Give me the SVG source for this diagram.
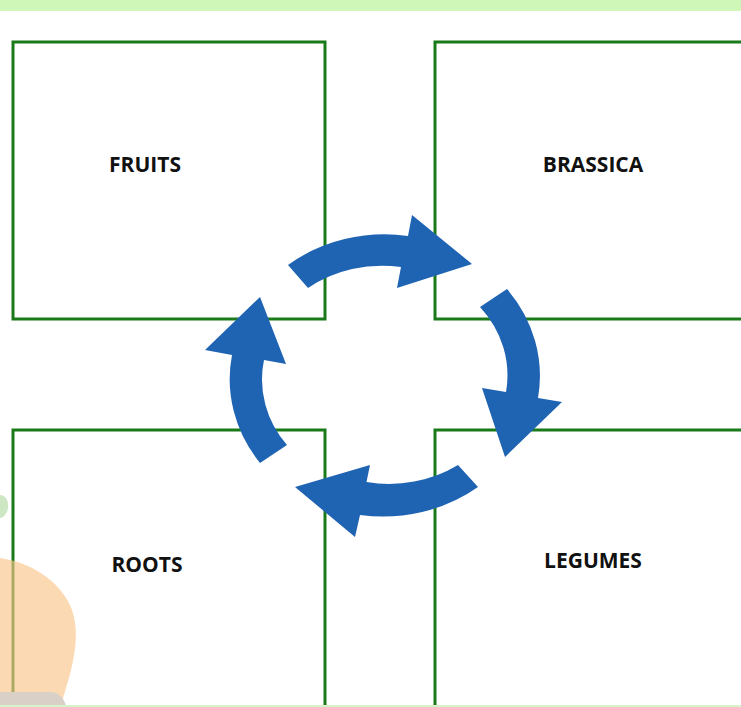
<svg xmlns="http://www.w3.org/2000/svg" width="741" height="707" viewBox="0 0 741 707">
<style>
.box{fill:#ffffff;stroke:#1a7a1a;stroke-width:3}
.lbl{font-family:"Open Sans","Liberation Sans",sans-serif;font-weight:bold;font-size:21px;fill:#111111;text-anchor:middle}
.arr{fill:#1f63b3}
</style>
<rect x="0" y="0" width="741" height="707" fill="#ffffff"/>
<rect x="0" y="0" width="741" height="11" fill="#cff7b8"/>
<g id="fruits">
<rect class="box" x="13" y="42" width="312" height="277"/>
<text class="lbl" x="145" y="172">FRUITS</text>
</g>
<g id="brassica">
<rect class="box" x="435" y="42" width="320" height="277"/>
<text class="lbl" x="593" y="172">BRASSICA</text>
</g>
<g id="roots">
<rect class="box" x="13" y="430" width="312" height="290"/>
<text class="lbl" x="147" y="572">ROOTS</text>
</g>
<g id="legumes">
<rect class="box" x="435" y="430" width="320" height="290"/>
<text class="lbl" x="593" y="568">LEGUMES</text>
</g>
<g id="connectors">
<path class="arr" d="M288,265 A155 141 0 0 1 408,236 L412,215 L472,264 L397,288 L401,267 A122 108 0 0 0 308,288 Z"/>
<path class="arr" d="M507,289 A155 141 0 0 1 538,398 L562,402 L505,457 L482,388 L506,392 A122 108 0 0 0 480,307 Z"/>
<path class="arr" d="M478,487 A155 141 0 0 1 360,515 L355,537 L295,487 L370,465 L366.5,482 A122 108 0 0 0 458,465 Z"/>
<path class="arr" d="M260,463 A155 141 0 0 1 232,355 L205,350 L260,297 L286,364 L264,360 A122 108 0 0 0 287,445 Z"/>
</g>
<g id="decor">
<path d="M0,495 C6,495 9,502 8,508 C7,514 3,518 0,518 Z" fill="#cde6c3"/>
<path d="M0,558 C30,562 58,580 70,605 C82,632 74,665 60,707 L0,707 Z" fill="#f9c48a" fill-opacity="0.65"/>
<path d="M0,692 L50,692 C60,692 65,700 66,707 L0,707 Z" fill="#d9d0c8"/>
<rect x="0" y="705" width="741" height="2" fill="#d5f2c8"/>
</g>
</svg>
